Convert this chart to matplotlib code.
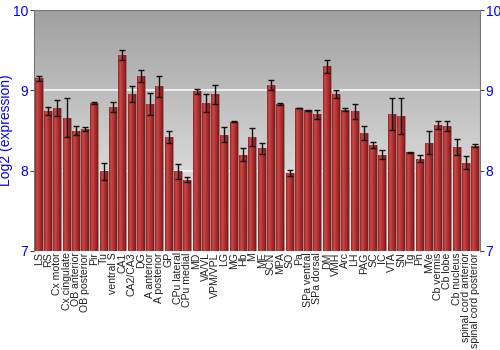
import numpy as np
import matplotlib
matplotlib.use('Agg')
from matplotlib import pyplot as plt
from matplotlib.colors import LinearSegmentedColormap

plt.rcParams['font.family'] = ['Liberation Sans', 'DejaVu Sans']

regions = ['LS', 'RS', 'Cx motor', 'Cx cingulate', 'OB anterior', 'OB posterior',
           'Pir', 'Tu', 'ventral S', 'CA1', 'CA2/CA3', 'DG', 'A anterior',
           'A posterior', 'GP', 'CPu lateral', 'CPu medial', 'MD', 'VA/VL',
           'VPM/VPL', 'LG', 'MG', 'Hb', 'M', 'ME', 'SCN', 'MPA', 'SO', 'Pa',
           'SPa ventral', 'SPa dorsal', 'DM', 'VMH', 'Arc', 'LH', 'PAG', 'SC',
           'IC', 'VTA', 'SN', 'Tg', 'Pn', 'MVe', 'Cb vermis', 'Cb lobe',
           'Cb nucleus', 'spinal cord anterior', 'spinal cord posterior']
expression = [9.15, 8.74, 8.78, 8.66, 8.50, 8.52, 8.84, 7.99, 8.79, 9.44,
              8.96, 9.18, 8.83, 9.05, 8.42, 7.99, 7.89, 8.99, 8.84, 8.95,
              8.45, 8.61, 8.20, 8.42, 8.28, 9.07, 8.83, 7.97, 8.78, 8.75,
              8.70, 9.30, 8.95, 8.76, 8.74, 8.47, 8.32, 8.20, 8.71, 8.68,
              8.23, 8.15, 8.35, 8.57, 8.56, 8.29, 8.10, 8.31]
errors = [0.03, 0.05, 0.10, 0.24, 0.06, 0.02, 0.01, 0.11, 0.06, 0.06,
          0.10, 0.07, 0.14, 0.13, 0.08, 0.09, 0.03, 0.03, 0.11, 0.12,
          0.09, 0.005, 0.08, 0.11, 0.07, 0.06, 0.01, 0.04, 0.005, 0.005,
          0.06, 0.08, 0.05, 0.02, 0.09, 0.09, 0.04, 0.06, 0.20, 0.22,
          0.005, 0.04, 0.14, 0.05, 0.06, 0.10, 0.08, 0.02]

fig = plt.figure(figsize=(5, 3.5), dpi=100)
ax = fig.add_axes([0.068, 0.283, 0.892, 0.688])

x = np.arange(len(regions))
n = len(regions)

# background gradient, light at top
bg = np.linspace(0, 1, 256).reshape(-1, 1)
bg_cmap = LinearSegmentedColormap.from_list('bg', ['#f3f3f3', '#cacaca', '#a0a0a0'])
ax.imshow(bg, cmap=bg_cmap, aspect='auto', extent=(-0.5, n - 0.5, 10, 7),
          zorder=0, interpolation='bicubic')

for yv in [8, 9]:
    ax.axhline(yv, color='#f4f4f4', lw=1.3, zorder=1)

bars = ax.bar(x, np.array(expression) - 7, bottom=7, width=0.86,
              color='#b03030', edgecolor='#8a8a8a', linewidth=0.4, zorder=2)

# horizontal shading inside each bar
bar_cmap = LinearSegmentedColormap.from_list('bar', ['#8e2222', '#cc4a4a', '#b83636', '#a02a2a', '#7a1a1a'])
shade = np.linspace(0, 1, 64).reshape(1, -1)
for b in bars:
    im = ax.imshow(shade, cmap=bar_cmap, aspect='auto', zorder=2.5,
                   extent=(b.get_x(), b.get_x() + b.get_width(), 7, b.get_y() + b.get_height()))
    im.set_clip_path(b)

ax.errorbar(x, expression, yerr=errors, fmt='none', ecolor='#111111',
            elinewidth=1.0, capsize=2.0, capthick=1.0, zorder=3)
ax.set_xlim(-0.5, n - 0.5)
ax.set_ylim(7, 10)

ax.set_xticks(x)
ax.set_xticklabels(regions, rotation=90, fontsize=7.6, color='#222222')
ax.tick_params(axis='x', length=0, pad=1)
ax.set_yticks([7, 8, 9, 10])
ax.tick_params(axis='y', labelcolor='#0000ff', labelsize=10, length=3,
               color='#444444', right=True, labelright=True, pad=1)
ax.set_ylabel('Log2 (expression)', color='#0000ff', fontsize=10)
ax.yaxis.set_label_coords(-0.047, 0.5)

for side in ['left', 'right', 'top', 'bottom']:
    ax.spines[side].set_color('#777777')
ax.spines['bottom'].set_visible(False)

fig.savefig('out.png', dpi=100)
